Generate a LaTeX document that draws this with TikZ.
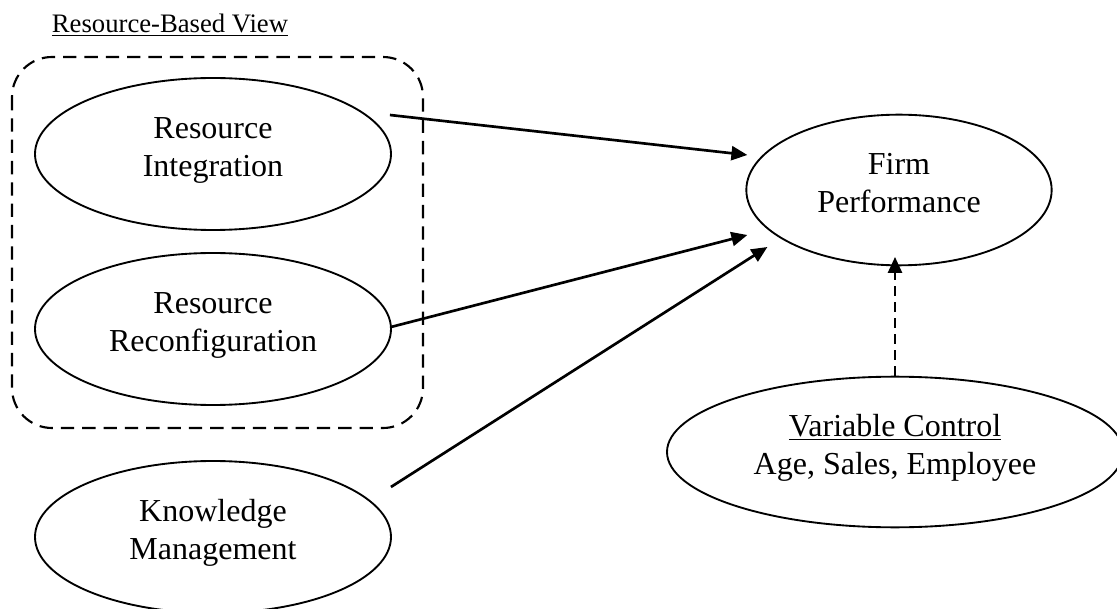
\documentclass[tikz,border=0pt]{standalone}
\usepackage{fontspec}
\setmainfont{Liberation Serif}
\usetikzlibrary{arrows.meta,shapes.geometric}

\tikzset{
  construct/.style={ellipse, draw, line width=1.4pt, inner sep=0pt, align=center,
    text depth=11pt, font=\fontsize{24}{28.5}\selectfont},
  link/.style={-{Triangle[length=12pt,width=10.5pt]}, line width=2pt},
}

\begin{document}
\begin{tikzpicture}[x=0.75pt,y=-0.75pt]
      \useasboundingbox (0,0) rectangle (1117,609);
      % resource-based view group
      \node[anchor=base,font=\fontsize{20}{24}\selectfont] (rbv) at (170,33) {\underline{Resource-Based View}};
      \draw[dash pattern=on 10pt off 6pt, line width=1.6pt, rounded corners=30pt] (12,57) rectangle (423,428);
      \node[construct, minimum width=267pt, minimum height=114pt] (ri) at (213,154) {Resource\\Integration};
      \node[construct, minimum width=267pt, minimum height=114pt] (rr) at (213,329) {Resource\\Reconfiguration};
      \node[construct, minimum width=267pt, minimum height=114pt] (km) at (213,537) {Knowledge\\Management};
      % outcome and controls
      \node[construct, minimum width=229pt, minimum height=113pt] (fp) at (899,190) {Firm\\Performance};
      \node[construct, minimum width=342pt, minimum height=113pt] (vc) at (895,452) {\underline{Variable Control}\\Age, Sales, Employee};
      \draw[link] ([shift={(-2,-39)}]ri.east) -- ([shift={(2,-35)}]fp.west);
      \draw[link] ([shift={(-1,-2)}]rr.east) -- ([shift={(2,45)}]fp.west);
      \draw[link] ([shift={(-1,-50)}]km.east) -- ([shift={(22,57)}]fp.west);
      \draw[link, dash pattern=on 7.5pt off 4.5pt] (vc.north) -- ([yshift=7]vc.north |- fp.south);
\end{tikzpicture}
\end{document}
